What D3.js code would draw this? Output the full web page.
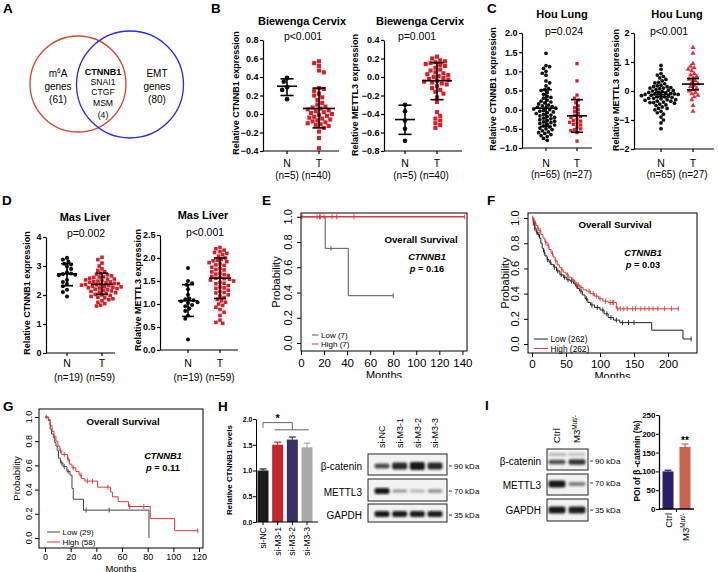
<!DOCTYPE html>
<html><head><meta charset="utf-8">
<script src="https://cdn.jsdelivr.net/npm/d3@7"></script>
<style>body{margin:0;background:#fff} svg{display:block} text{font-family:"Liberation Sans",Arial,Helvetica,sans-serif}</style>
</head><body><svg id="c" width="718" height="572"></svg>
<script>
// ---------------- DATA ----------------
const vennCounts = [61, 80, 4];
const overlapGenes = ["CTNNB1", "SNAI1", "CTGF", "MSM"];
const groups = ["N", "T"];

const cervixCtnnb1N = [0.39, 0.35, 0.29, 0.26, 0.16];
const cervixCtnnb1T = [0.57, 0.55, 0.52, 0.47, 0.45, 0.28, 0.27, 0.25, 0.22, 0.20, 0.18, 0.15, 0.12, 0.10, 0.08, 0.07, 0.06, 0.05, 0.04, 0.03, 0.02, 0.01, 0.00, -0.01, -0.02, -0.03, -0.04, -0.05, -0.06, -0.07, -0.08, -0.09, -0.10, -0.11, -0.12, -0.13, -0.15, -0.19, -0.26, -0.37];
const cervixMettl3N = [-0.30, -0.37, -0.47, -0.56, -0.69];
const cervixMettl3T = [0.22, 0.20, 0.18, 0.17, 0.16, 0.15, 0.14, 0.13, 0.12, 0.10, 0.08, 0.07, 0.05, 0.04, 0.03, 0.02, 0.01, 0.00, -0.01, -0.02, -0.03, -0.04, -0.05, -0.06, -0.07, -0.08, -0.10, -0.12, -0.14, -0.16, -0.18, -0.22, -0.27, -0.38, -0.42, -0.45, -0.47, -0.50, -0.52, -0.55];

const lungCtnnb1N = [1.47, 1.15, 1.12, 1.08, 1.0, 0.95, 0.9, 0.75, 0.7, 0.62, 0.55, 0.52, 0.5, 0.45, 0.4, 0.35, 0.32, 0.3, 0.25, 0.22, 0.2, 0.18, 0.15, 0.12, 0.1, 0.08, 0.06, 0.04, 0.02, 0.0, -0.02, -0.04, -0.06, -0.08, -0.1, -0.12, -0.14, -0.16, -0.18, -0.2, -0.22, -0.24, -0.26, -0.28, -0.3, -0.32, -0.34, -0.36, -0.38, -0.4, -0.42, -0.45, -0.48, -0.5, -0.52, -0.55, -0.58, -0.6, -0.62, -0.65, -0.68, -0.7, -0.75, -0.8, 0.05];
const lungCtnnb1T = [1.2, 0.75, 0.38, 0.3, 0.25, 0.18, 0.1, 0.05, 0.0, -0.05, -0.1, -0.15, -0.18, -0.2, -0.25, -0.28, -0.3, -0.33, -0.35, -0.38, -0.4, -0.45, -0.5, -0.52, -0.55, -0.6, -0.82];
const lungMettl3N = [0.88, 0.75, 0.6, 0.55, 0.5, 0.45, 0.4, 0.35, 0.3, 0.28, 0.25, 0.2, 0.18, 0.15, 0.12, 0.1, 0.08, 0.05, 0.03, 0.0, -0.02, -0.05, -0.07, -0.1, -0.12, -0.14, -0.16, -0.18, -0.2, -0.22, -0.25, -0.27, -0.3, -0.32, -0.35, -0.38, -0.4, -0.42, -0.45, -0.48, -0.5, -0.55, -0.6, -0.65, -0.7, -0.75, -0.8, -0.9, -1.0, -1.1, -1.3, -0.05, -0.15, -0.25, -0.1, 0.02, -0.08, -0.3, -0.2, -0.12, 0.15, -0.35, -0.4, 0.1, -0.6];
const lungMettl3T = [1.5, 1.3, 0.95, 0.85, 0.8, 0.75, 0.7, 0.6, 0.55, 0.5, 0.45, 0.4, 0.35, 0.3, 0.25, 0.2, 0.15, 0.1, 0.05, 0.0, -0.05, -0.1, -0.15, -0.2, -0.3, -0.5, -0.7];

const liverCtnnb1N = [3.28, 3.22, 3.15, 3.08, 3.05, 2.98, 2.9, 2.78, 2.74, 2.72, 2.7, 2.68, 2.52, 2.45, 2.38, 2.3, 2.18, 2.1, 1.95];
const liverCtnnb1T = [3.3, 3.22, 3.1, 3.0, 2.9, 2.85, 2.8, 2.75, 2.72, 2.7, 2.66, 2.63, 2.6, 2.58, 2.55, 2.52, 2.5, 2.48, 2.46, 2.44, 2.42, 2.4, 2.39, 2.37, 2.36, 2.34, 2.32, 2.3, 2.29, 2.27, 2.25, 2.24, 2.22, 2.2, 2.18, 2.16, 2.14, 2.12, 2.1, 2.08, 2.05, 2.02, 2.0, 1.98, 1.95, 1.92, 1.9, 1.87, 1.84, 1.8, 1.75, 1.7, 1.65, 1.62, 2.45, 2.35, 2.28, 2.55, 2.62];
const liverMettl3N = [1.78, 1.5, 1.45, 1.42, 1.32, 1.2, 1.12, 1.1, 1.08, 1.06, 1.04, 1.02, 0.98, 0.95, 0.9, 0.85, 0.75, 0.68, 0.23];
const liverMettl3T = [2.23, 2.2, 2.17, 2.14, 2.1, 2.07, 2.04, 2.0, 1.97, 1.94, 1.9, 1.87, 1.84, 1.8, 1.77, 1.74, 1.7, 1.67, 1.64, 1.6, 1.58, 1.56, 1.54, 1.5, 1.47, 1.44, 1.4, 1.37, 1.34, 1.3, 1.27, 1.24, 1.2, 1.17, 1.14, 1.1, 1.07, 1.04, 1.0, 0.97, 0.93, 0.88, 0.82, 0.75, 0.65, 0.6, 0.58, 1.95, 1.85, 1.75, 1.65, 1.55, 1.45, 2.12, 1.92, 1.62, 1.52, 1.35, 1.25];

// mean and error-bar limits: [mean, low, high]
const cervixCtnnb1Stats = [[0.30, 0.20, 0.38], [0.06, -0.15, 0.28]];
const cervixMettl3Stats = [[-0.46, -0.62, -0.305], [-0.04, -0.245, 0.155]];
const lungCtnnb1Stats = [[0.04, -0.44, 0.52], [-0.16, -0.59, 0.26]];
const lungMettl3Stats = [[-0.12, -0.2, -0.04], [0.24, 0.04, 0.43]];
const liverCtnnb1Stats = [[2.73, 2.32, 3.08], [2.37, 2.02, 2.75]];
const liverMettl3Stats = [[1.07, 0.73, 1.42], [1.56, 1.12, 2.0]];

// Kaplan-Meier step points [months, probability]
const kmE_low = [[0, 1], [21, 0.75], [41, 0.375]]; const kmE_lowEnd = 80;
const kmE_high = [[0, 1]]; const kmE_highEnd = 142;
const kmE_lowCensor = [16, 26, 80];
const kmE_highCensor = [1, 14, 17, 20, 27, 31, 46, 142];

const kmF_high = [[0,1.0],[2,0.98],[4,0.96],[6,0.94],[8,0.92],[10,0.90],[13,0.87],[16,0.84],[19,0.81],[22,0.78],[25,0.75],[28,0.72],[31,0.69],[34,0.66],[37,0.63],[40,0.61],[43,0.59],[46,0.57],[50,0.55],[54,0.53],[58,0.51],[62,0.49],[66,0.47],[70,0.45],[75,0.43],[80,0.42],[86,0.40],[92,0.38],[98,0.36],[104,0.34],[112,0.33],[124,0.28]];
const kmF_highEnd = 216;
const kmF_low = [[0,1.0],[2,0.96],[4,0.92],[6,0.89],[8,0.87],[11,0.84],[13,0.80],[15,0.76],[17,0.73],[19,0.70],[22,0.67],[25,0.65],[28,0.63],[32,0.61],[36,0.58],[41,0.55],[46,0.53],[51,0.51],[56,0.50],[61,0.48],[64,0.46],[67,0.44],[70,0.42],[74,0.39],[78,0.36],[82,0.33],[86,0.31],[92,0.29],[100,0.27],[106,0.24],[112,0.21],[120,0.19],[129,0.17],[176,0.11],[222,0.04]];
const kmF_lowEnd = 234;
const kmF_highCensor = [1,3,5,9,12,20,24,30,35,44,52,60,63,68,72,84,90,95,100,108,115,118,120,126,130,135,140,148,152,160,166,172,178,185,195,205,215];
const kmF_lowCensor = [2,4,7,10,18,23,27,33,38,43,48,53,58,66,72,80,88,96,104,110,116,124,133,142,150,234];

const kmG_low = [[0,1.0],[2.6,0.97],[4,0.90],[5,0.86],[6.5,0.83],[7.5,0.79],[8.5,0.76],[9.5,0.72],[10.5,0.66],[12,0.62],[14,0.59],[17,0.55],[19.5,0.52],[21,0.41],[22,0.32],[30,0.23],[81,0.0]];
const kmG_lowEnd = 81;
const kmG_high = [[0,1.0],[2.6,0.98],[4,0.93],[5.5,0.88],[7,0.84],[8.5,0.80],[10,0.76],[11.5,0.72],[13,0.69],[17.5,0.65],[19,0.61],[21,0.58],[24,0.55],[26.5,0.52],[28.5,0.49],[31,0.47],[41,0.42],[51,0.38],[52.5,0.34],[57,0.30],[65,0.26],[82,0.16],[101,0.06]];
const kmG_highEnd = 119;
const kmG_lowCensor = [13, 15, 18, 32, 50];
const kmG_highCensor = [1, 12, 15, 18, 22, 28, 33, 37, 49, 66, 77, 119];

// H bar chart
const hCats = ["si-NC", "si-M3-1", "si-M3-2", "si-M3-3"];
const hVals = [1.0, 1.5, 1.6, 1.45];
const hErr = [0.03, 0.05, 0.05, 0.08];
const hTicks = [0, 0.5, 1.0, 1.5, 2.0];
// blots: relative band intensities per lane
const blotRows = ["β-catenin", "METTL3", "GAPDH"];
const blotKda = ["90 kDa", "70 kDa", "35 kDa"];
const hBand = [[0.72, 0.88, 0.95, 0.88], [0.95, 0.42, 0.28, 0.42], [0.95, 0.93, 0.93, 0.92]];
const hBandH = [[5, 7, 8, 7], [6, 3, 3, 3.5], [6, 6, 6, 6]];
const iCats = ["Ctrl", "M3"];
const iVals = [100, 165];
const iErr = [3, 8];
const iTicks = [0, 50, 100, 150, 200, 250];
const iBand = [[0.7, 0.82], [0.95, 0.5], [0.95, 0.92]];
const iBandH = [[4.5, 5.5], [7, 4], [7, 7]];

// ---------------- DRAW ----------------
const svg = d3.select("#c");
const RED = "#d62028";
function txt(x, y, s, o = {}) {
  const t = svg.append("text").attr("x", x).attr("y", y).text(s)
    .attr("font-size", o.size || 10).attr("text-anchor", o.anchor || "middle")
    .attr("font-weight", o.bold ? "bold" : "normal").attr("fill", o.fill || "#000");
  if (o.italic) t.attr("font-style", "italic");
  if (o.rot) t.attr("transform", `rotate(${o.rot},${x},${y})`);
  return t;
}
// panel letters
[["A",3,13],["B",211,13],["C",487,13],["D",2,205],["E",262,205],["F",487,205],["G",3,411],["H",218,411],["I",485,410]]
  .forEach(([l,x,y]) => txt(x, y, l, {size: 13.5, bold: true, anchor: "start"}));

// ---- A: Venn
svg.append("circle").attr("cx", 78).attr("cy", 84).attr("r", 48).attr("fill", "none").attr("stroke", "#d4452f").attr("stroke-width", 1.3);
svg.append("circle").attr("cx", 130).attr("cy", 84.5).attr("r", 53.5).attr("fill", "none").attr("stroke", "#2a2ae8").attr("stroke-width", 1.3);
const m6 = txt(58, 76.5, "m", {size: 10});
m6.append("tspan").text("6").attr("font-size", 6.5).attr("dy", -4);
m6.append("tspan").text("A").attr("dy", 4);
txt(58, 89.5, "genes"); txt(58, 102.5, `(${vennCounts[0]})`);
txt(157, 76.5, "EMT"); txt(157, 89.5, "genes"); txt(157, 102.5, `(${vennCounts[1]})`);
overlapGenes.forEach((g, i) => txt(103, [74.5, 84.5, 94.5, 106][i], g, {size: i === 0 ? 9 : 8.6, bold: i === 0}));
txt(103, 118, `(${vennCounts[2]})`, {size: 8.6});

// ---- scatter plots
function swarm(vals, y, d) {
  const pts = vals.map(v => ({v, py: y(v)})).sort((a, b) => a.py - b.py);
  const placed = [];
  pts.forEach((p, idx) => {
    let best = null;
    for (let k = 0; k < 60 && best === null; k++) {
      const s = idx % 2 ? -1 : 1;
      const cand = k === 0 ? [0] : [s * k * d * 0.35, -s * k * d * 0.35];
      for (const o of cand) {
        if (placed.every(q => (q.ox - o) ** 2 + (q.py - p.py) ** 2 >= d * d)) { best = o; break; }
      }
    }
    p.ox = best === null ? 0 : best;
    placed.push(p);
  });
  return pts;
}
function scatter(c) {
  const y = d3.scaleLinear().domain(c.domain).range([c.bottom, c.top]);
  const x = d3.scalePoint().domain(groups).range([c.xN, c.xT]);
  const g = svg.append("g");
  const ga = g.append("g").attr("transform", `translate(${c.ax},0)`)
    .call(d3.axisLeft(y).tickValues(c.ticks).tickSize(3).tickSizeOuter(0).tickFormat(d3.format(c.fmt)));
  ga.select(".domain").attr("stroke", "#000").attr("stroke-width", 1.2);
  ga.selectAll(".tick line").attr("stroke", "#000").attr("stroke-width", 1.2);
  ga.selectAll(".tick text").attr("font-size", 9).attr("font-weight", "bold").attr("fill", "#000")
    .attr("font-family", '"Liberation Sans",Arial,sans-serif').attr("x", -4.5);
  g.append("line").attr("x1", c.ax).attr("x2", c.xEnd).attr("y1", c.bottom).attr("y2", c.bottom).attr("stroke", "#000").attr("stroke-width", 1.2);
  groups.forEach(k => g.append("line").attr("x1", x(k)).attr("x2", x(k)).attr("y1", c.bottom).attr("y2", c.bottom + 3).attr("stroke", "#000").attr("stroke-width", 1.2));
  [[c.nVals, c.nShape, "#111", c.stats[0], c.mh[0], "N"], [c.tVals, c.tShape, c.tColor || RED, c.stats[1], c.mh[1], "T"]]
    .forEach(([vals, shape, col, st, mh, k]) => {
      const cx = x(k);
      swarm(vals, y, c.d).forEach(p => {
        g.append("path").attr("d", d3.symbol().type(shape).size(c.size)())
          .attr("transform", `translate(${cx + p.ox},${p.py})`).attr("fill", col);
      });
      const [m, lo, hi] = st;
      const sw = 1.6;
      g.append("line").attr("x1", cx).attr("x2", cx).attr("y1", y(lo)).attr("y2", y(hi)).attr("stroke", "#000").attr("stroke-width", sw);
      g.append("line").attr("x1", cx - mh).attr("x2", cx + mh).attr("y1", y(m)).attr("y2", y(m)).attr("stroke", "#000").attr("stroke-width", sw);
      [lo, hi].forEach(v => g.append("line").attr("x1", cx - c.wh).attr("x2", cx + c.wh).attr("y1", y(v)).attr("y2", y(v)).attr("stroke", "#000").attr("stroke-width", sw));
    });
  txt(c.titleX, c.titleY, c.title, {size: 11, bold: true});
  txt(c.pX, c.pY, c.p, {size: 10.5});
  txt(c.yTitleX, c.yTitleY, c.yTitle, {size: 9, bold: true, rot: -90});
  groups.forEach(k => txt(x(k), c.labY, k, {size: 10.5}));
  txt((c.xN + c.xT) / 2, c.nY, c.nLab, {size: 10});
}
const sq = d3.symbolSquare, ci = d3.symbolCircle, tri = d3.symbolTriangle;
scatter({domain: [-0.4, 0.8], ticks: d3.range(-0.4, 0.81, 0.2), fmt: ".1f", top: 40, bottom: 151, ax: 263, xN: 287, xT: 319, xEnd: 339,
  nVals: cervixCtnnb1N, tVals: cervixCtnnb1T, nShape: ci, tShape: sq, size: 17, d: 4.6, stats: cervixCtnnb1Stats, mh: [10, 16], wh: 6.5,
  title: "Biewenga Cervix", titleX: 302, titleY: 25, p: "p<0.001", pX: 303, pY: 40, yTitle: "Relative CTNNB1 expression", yTitleX: 239, yTitleY: 93,
  labY: 167, nY: 179, nLab: "(n=5)  (n=40)"});
scatter({domain: [-0.8, 0.4], ticks: d3.range(-0.8, 0.41, 0.2), fmt: ".1f", top: 40, bottom: 151, ax: 384, xN: 405, xT: 437, xEnd: 462,
  nVals: cervixMettl3N, tVals: cervixMettl3T, nShape: ci, tShape: sq, size: 17, d: 4.6, stats: cervixMettl3Stats, mh: [10, 15], wh: 6.5,
  title: "Biewenga Cervix", titleX: 420, titleY: 25, p: "p=0.001", pX: 417, pY: 40, yTitle: "Relative METTL3 expression", yTitleX: 358, yTitleY: 95,
  labY: 167, nY: 179, nLab: "(n=5)  (n=40)"});
scatter({domain: [-1, 2], ticks: d3.range(-1, 2.01, 0.5), fmt: ".1f", top: 33, bottom: 148, ax: 522, xN: 546, xT: 577, xEnd: 592,
  nVals: lungCtnnb1N, tVals: lungCtnnb1T, nShape: ci, tShape: sq, size: 11, d: 3.5, stats: lungCtnnb1Stats, mh: [11, 10], wh: 6,
  title: "Hou Lung", titleX: 562, titleY: 18, p: "p=0.024", pX: 564, pY: 35, yTitle: "Relative CTNNB1 expression", yTitleX: 496, yTitleY: 89,
  labY: 167, nY: 178, nLab: "(n=65) (n=27)"});
scatter({domain: [-2, 2], ticks: [-2, -1, 0, 1, 2], fmt: "d", top: 33, bottom: 149, ax: 634, xN: 661, xT: 693, xEnd: 714,
  nVals: lungMettl3N, tVals: lungMettl3T, nShape: ci, tShape: tri, size: 11, d: 3.5, stats: lungMettl3Stats, mh: [10, 11], wh: 6, tColor: "#e0303a",
  title: "Hou Lung", titleX: 677, titleY: 18, p: "p<0.001", pX: 669, pY: 35, yTitle: "Relative METTL3 expression", yTitleX: 619, yTitleY: 90,
  labY: 167, nY: 178, nLab: "(n=65) (n=27)"});
scatter({domain: [0, 4], ticks: [0, 1, 2, 3, 4], fmt: "d", top: 237, bottom: 353, ax: 46, xN: 67, xT: 102, xEnd: 115,
  nVals: liverCtnnb1N, tVals: liverCtnnb1T, nShape: ci, tShape: sq, size: 13, d: 3.9, stats: liverCtnnb1Stats, mh: [10, 11], wh: 6,
  title: "Mas Liver", titleX: 85, titleY: 221, p: "p=0.002", pX: 86, pY: 237, yTitle: "Relative CTNNB1 expression", yTitleX: 30, yTitleY: 293,
  labY: 367, nY: 381, nLab: "(n=19) (n=59)"});
scatter({domain: [0, 2.5], ticks: d3.range(0, 2.51, 0.5), fmt: ".1f", top: 235, bottom: 350, ax: 160, xN: 188, xT: 220, xEnd: 238,
  nVals: liverMettl3N, tVals: liverMettl3T, nShape: ci, tShape: sq, size: 13, d: 3.9, stats: liverMettl3Stats, mh: [10, 11], wh: 6,
  title: "Mas Liver", titleX: 203, titleY: 219, p: "p<0.001", pX: 205, pY: 236, yTitle: "Relative METTL3 expression", yTitleX: 141, yTitleY: 290,
  labY: 367, nY: 381, nLab: "(n=19) (n=59)"});

// ---- Kaplan-Meier
svg.append("defs").append("clipPath").attr("id", "cutTop").append("rect").attr("x", 0).attr("y", 0).attr("width", 718).attr("height", 378);
function km(c) {
  const x = d3.scaleLinear().domain(c.xDomain).range([c.left, c.right]);
  const y = d3.scaleLinear().domain(c.yDomain).range([c.bottom, c.top]);
  const g = svg.append("g");
  const gx = g.append("g").attr("transform", `translate(0,${c.bottom})`)
    .call(d3.axisBottom(x).tickValues(c.xTicks).tickSize(4).tickSizeOuter(0));
  gx.select(".domain").remove();
  gx.selectAll(".tick text").attr("font-size", c.fs).attr("fill", "#000").attr("font-family", '"Liberation Sans",Arial,sans-serif').attr("y", c.tickLabY);
  const gy = g.append("g").attr("transform", `translate(${c.left},0)`)
    .call(d3.axisLeft(y).tickValues([0, 0.2, 0.4, 0.6, 0.8, 1]).tickSize(4).tickSizeOuter(0));
  gy.select(".domain").remove();
  gy.selectAll(".tick text").remove();
  [0, 0.2, 0.4, 0.6, 0.8, 1].forEach(v => txt(c.left - c.yLabOff, y(v), d3.format(".1f")(v), {size: c.fsY, rot: -90}));
  const line = d3.line().x(d => x(d[0])).y(d => y(d[1])).curve(d3.curveStepAfter);
  const stepAt = (pts, t) => { let s = pts[0][1]; pts.forEach(p => { if (p[0] <= t) s = p[1]; }); return s; };
  c.series.forEach(sr => {
    const pts = sr.pts.concat([[sr.end, sr.pts[sr.pts.length - 1][1]]]);
    g.append("path").attr("d", line(pts)).attr("fill", "none").attr("stroke", sr.color).attr("stroke-width", sr.w || 1);
    sr.censor.forEach(t => {
      const s = stepAt(sr.pts, t);
      g.append("line").attr("x1", x(t)).attr("x2", x(t)).attr("y1", y(s) - 2.5).attr("y2", y(s) + 2.5).attr("stroke", sr.color).attr("stroke-width", 0.9);
    });
  });
  g.append("rect").attr("x", c.left).attr("y", c.top).attr("width", c.right - c.left).attr("height", c.bottom - c.top)
    .attr("fill", "none").attr("stroke", "#000").attr("stroke-width", 1);
  txt(c.probX, (c.top + c.bottom) / 2, "Probability", {size: c.fsP, rot: -90});
  const mt = txt((c.left + c.right) / 2, c.monthsY, "Months", {size: c.fsP});
  if (c.clip) mt.attr("clip-path", "url(#cutTop)");
  txt(c.osX, c.osY, "Overall Survival", {size: 9.7, bold: true});
  txt(c.gX, c.gY, "CTNNB1", {size: 9.3, bold: true, italic: true});
  const pt = txt(c.gX, c.gY + 11.5, "", {size: 9.3, bold: true});
  pt.append("tspan").text("p").attr("font-style", "italic"); pt.append("tspan").text(" = " + c.p);
  c.series.forEach((sr, i) => {
    const ly = c.legY + i * c.legDy;
    g.append("line").attr("x1", c.legX).attr("x2", c.legX + c.legW).attr("y1", ly - 3).attr("y2", ly - 3).attr("stroke", sr.color).attr("stroke-width", 1);
    txt(c.legX + c.legW + 2.5, ly, sr.label, {size: c.fsL, anchor: "start"});
  });
}
const KRED = "#e3363c";
km({xDomain: [0, 144], yDomain: [-0.063, 1.03], left: 301, right: 467, top: 213, bottom: 351, xTicks: d3.range(0, 141, 20),
  fs: 11.5, tickLabY: 8, fsY: 11, yLabOff: 9, probX: 280, fsP: 11, monthsY: 379, clip: true,
  osX: 421, osY: 243, gX: 427, gY: 260, p: "0.16", legX: 312, legW: 6.5, legY: 338, legDy: 9, fsL: 8,
  series: [{pts: kmE_low, end: kmE_lowEnd, censor: kmE_lowCensor, color: "#555", label: "Low (7)"},
           {pts: kmE_high, end: kmE_highEnd, censor: kmE_highCensor, color: KRED, w: 1.4, label: "High (7)"}]});
km({xDomain: [-5.9, 242.6], yDomain: [-0.071, 1.04], left: 528, right: 697, top: 213, bottom: 353, xTicks: [0, 50, 100, 150, 200],
  fs: 11.5, tickLabY: 7, fsY: 11, yLabOff: 9, probX: 509, fsP: 11, monthsY: 380, clip: true,
  osX: 615, osY: 228, gX: 643, gY: 256, p: "0.03", legX: 534, legW: 14, legY: 342, legDy: 9.5, fsL: 8.3,
  series: [{pts: kmF_low, end: kmF_lowEnd, censor: kmF_lowCensor, color: "#222", label: "Low (262)"},
           {pts: kmF_high, end: kmF_highEnd, censor: kmF_highCensor, color: KRED, label: "High (262)"}]});
km({xDomain: [-4.7, 123.1], yDomain: [-0.083, 1.066], left: 39, right: 203, top: 409, bottom: 548, xTicks: d3.range(0, 121, 20),
  fs: 9, tickLabY: 5.5, fsY: 9, yLabOff: 7, probX: 20, fsP: 9.5, monthsY: 571.5, clip: false,
  osX: 123, osY: 425, gX: 163, gY: 459, p: "0.11", legX: 47, legW: 13, legY: 535, legDy: 10, fsL: 8,
  series: [{pts: kmG_low, end: kmG_lowEnd, censor: kmG_lowCensor, color: "#444", label: "Low (29)"},
           {pts: kmG_high, end: kmG_highEnd, censor: kmG_highCensor, color: KRED, label: "High (58)"}]});

// ---- H bar chart
(function () {
  const y = d3.scaleLinear().domain([0, 2]).range([522, 419]);
  const x = d3.scalePoint().domain(hCats).range([263, 307]);
  const cols = ["#1c1c1c", "#c4262e", "#3b2e63", "#a9a9a9"];
  const bw = 11;
  const g = svg.append("g");
  hCats.forEach((k, i) => {
    g.append("rect").attr("x", x(k) - bw / 2).attr("y", y(hVals[i])).attr("width", bw).attr("height", y(0) - y(hVals[i])).attr("fill", cols[i]);
    g.append("line").attr("x1", x(k)).attr("x2", x(k)).attr("y1", y(hVals[i])).attr("y2", y(hVals[i] + hErr[i])).attr("stroke", cols[i]).attr("stroke-width", 1.2);
    g.append("line").attr("x1", x(k) - 3.5).attr("x2", x(k) + 3.5).attr("y1", y(hVals[i] + hErr[i])).attr("y2", y(hVals[i] + hErr[i])).attr("stroke", cols[i]).attr("stroke-width", 1.2);
    g.append("line").attr("x1", x(k)).attr("x2", x(k)).attr("y1", 522).attr("y2", 525).attr("stroke", "#000");
    txt(x(k) + 3, 527, k, {size: 8.6, anchor: "end", rot: -90});
  });
  const ga = g.append("g").attr("transform", "translate(256,0)")
    .call(d3.axisLeft(y).tickValues(hTicks).tickSize(3).tickSizeOuter(0).tickFormat(d3.format(".1f")));
  ga.selectAll(".tick text").attr("font-size", 7).attr("font-weight", "bold").attr("fill", "#000").attr("x", -3.5).attr("font-family", '"Liberation Sans",Arial,sans-serif');
  g.append("line").attr("x1", 256).attr("x2", 318).attr("y1", 522).attr("y2", 522).attr("stroke", "#000");
  const bp = d3.path();
  bp.moveTo(x(hCats[0]), y(1.83)); bp.lineTo(x(hCats[0]), y(1.93)); bp.lineTo(x(hCats[2]), y(1.93)); bp.lineTo(x(hCats[2]), y(1.79));
  bp.moveTo(x(hCats[1]) - 3, y(1.79)); bp.lineTo(x(hCats[3]) + 2, y(1.79));
  g.append("path").attr("d", bp.toString()).attr("fill", "none").attr("stroke", "#555").attr("stroke-width", 0.9);
  txt((x(hCats[0]) + x(hCats[2])) / 2, 422, "*", {size: 11, bold: true});
  txt(232, 470, "Relative CTNNB1 levels", {size: 8, bold: true, rot: -90});
})();

// ---- western blots
const blur = svg.select("defs").append("filter").attr("id", "blr").attr("x", "-30%").attr("y", "-100%").attr("width", "160%").attr("height", "300%");
blur.append("feGaussianBlur").attr("stdDeviation", 1.1);
function blot(c) {
  const x = d3.scalePoint().domain(c.lanes).range(c.laneRange);
  c.boxes.forEach((b, r) => {
    svg.append("rect").attr("x", c.left).attr("y", b[0]).attr("width", c.right - c.left).attr("height", b[1] - b[0]).attr("fill", "#f2f2f2").attr("stroke", "#222").attr("stroke-width", 1);
    c.lanes.forEach((l, i) => {
      const h = c.bandH[r][i];
      svg.append("rect").attr("x", x(l) - c.bandW / 2).attr("y", c.bandY[r] - h / 2).attr("width", c.bandW).attr("height", h).attr("rx", 2)
        .attr("fill", "#111").attr("opacity", c.band[r][i]).attr("filter", "url(#blr)");
    });
    txt(c.left - 6, c.labY[r], blotRows[r], {size: 10, anchor: "end"});
    svg.append("line").attr("x1", c.right + 2).attr("x2", c.right + 5).attr("y1", c.kdaY[r] - 3).attr("y2", c.kdaY[r] - 3).attr("stroke", "#333");
    txt(c.right + 7, c.kdaY[r], blotKda[r], {size: 8, anchor: "start"});
  });
}
blot({lanes: hCats, laneRange: [382, 435], left: 368, right: 447, boxes: [[454, 475], [479, 501], [504, 522]], bandY: [466, 491, 514],
  band: hBand, bandH: hBandH, bandW: 15, labY: [470, 496, 519], kdaY: [469, 494, 518]});
hCats.forEach((k, i) => txt([382, 400, 418, 435][i] + 3, 448, k, {size: 9, anchor: "start", rot: -90}));
blot({lanes: iCats, laneRange: [557, 577], left: 547, right: 588, boxes: [[449, 470], [474, 495], [499, 521]], bandY: [462, 484, 510],
  band: iBand, bandH: iBandH, bandW: 17, labY: [465, 489, 514], kdaY: [464, 486, 513]});
svg.append("rect").attr("x", 549).attr("y", 453).attr("width", 17).attr("height", 3).attr("fill", "#111").attr("opacity", 0.25).attr("filter", "url(#blr)");
svg.append("rect").attr("x", 568).attr("y", 453).attr("width", 17).attr("height", 3).attr("fill", "#111").attr("opacity", 0.2).attr("filter", "url(#blr)");
txt(560, 443, "Ctrl", {size: 9.5, anchor: "start", rot: -90});
const mlab = txt(580, 443, "M3", {size: 9.5, anchor: "start", rot: -90});
mlab.append("tspan").text("Mut/-").attr("font-size", 6.5).attr("dy", -3.5);

// ---- I bar chart
(function () {
  const y = d3.scaleLinear().domain([0, 250]).range([509, 415]);
  const x = d3.scalePoint().domain(iCats).range([668, 685]);
  const cols = ["#2b1d6b", "#c8654e"];
  const g = svg.append("g");
  iCats.forEach((k, i) => {
    g.append("rect").attr("x", x(k) - 5.5).attr("y", y(iVals[i])).attr("width", 11).attr("height", y(0) - y(iVals[i])).attr("fill", cols[i]);
    g.append("line").attr("x1", x(k)).attr("x2", x(k)).attr("y1", y(iVals[i])).attr("y2", y(iVals[i] + iErr[i])).attr("stroke", cols[i]).attr("stroke-width", 1.2);
    g.append("line").attr("x1", x(k) - 3.5).attr("x2", x(k) + 3.5).attr("y1", y(iVals[i] + iErr[i])).attr("y2", y(iVals[i] + iErr[i])).attr("stroke", cols[i]).attr("stroke-width", 1.2);
  });
  const ga = g.append("g").attr("transform", "translate(659,0)")
    .call(d3.axisLeft(y).tickValues(iTicks).tickSize(3).tickSizeOuter(0));
  ga.select(".domain").attr("stroke-width", 1.3);
  ga.selectAll(".tick text").attr("font-size", 8).attr("font-weight", "bold").attr("fill", "#000").attr("x", -3.5).attr("font-family", '"Liberation Sans",Arial,sans-serif');
  g.append("line").attr("x1", 659).attr("x2", 694).attr("y1", 509).attr("y2", 509).attr("stroke", "#000").attr("stroke-width", 1.3);
  g.append("line").attr("x1", 676.5).attr("x2", 676.5).attr("y1", 509).attr("y2", 512).attr("stroke", "#000");
  txt(x("M3"), 444, "**", {size: 10, bold: true});
  txt(x("Ctrl") + 3.5, 513, "Ctrl", {size: 9.5, anchor: "end", rot: -90});
  const ml = txt(x("M3") + 3.5, 513, "", {size: 9.5, anchor: "end", rot: -90});
  ml.append("tspan").text("M3");
  ml.append("tspan").text("Mut/-").attr("font-size", 6.5).attr("dy", -3.5);
  txt(640, 461, "POI of β -catenin (%)", {size: 8.3, bold: true, rot: -90});
})();
</script></body></html>
